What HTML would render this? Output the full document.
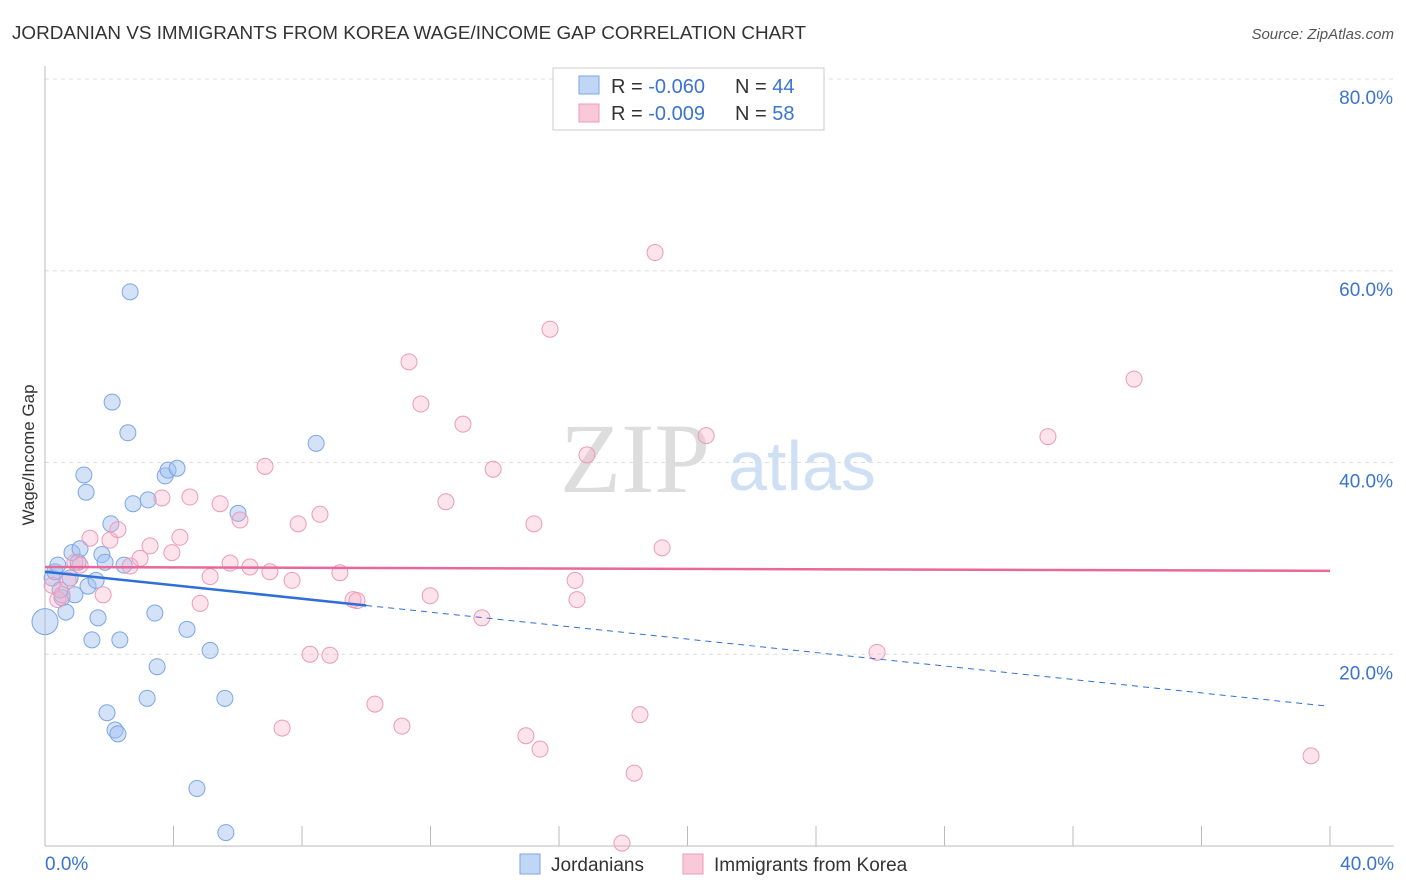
<!DOCTYPE html>
<html><head><meta charset="utf-8"><style>
body{margin:0;background:#fff;font-family:"Liberation Sans",sans-serif;}
svg{display:block}
</style></head><body>
<svg id="chart" width="1406" height="892">
<text x="12" y="39" font-size="18" fill="#333" textLength="794" lengthAdjust="spacingAndGlyphs">JORDANIAN VS IMMIGRANTS FROM KOREA WAGE/INCOME GAP CORRELATION CHART</text>
<text x="1394" y="39" font-size="15" fill="#555" font-style="italic" text-anchor="end">Source: ZipAtlas.com</text>
<g id="grid"></g>
<text x="635" y="492" font-size="100" fill="#ddd" font-family="Liberation Serif,serif" text-anchor="middle">ZIP</text>
<text x="802" y="490" font-size="70" fill="#cfe0f5" text-anchor="middle">atlas</text>
<text x="34" y="455" font-size="17" fill="#333" text-anchor="middle" transform="rotate(-90 34 455)">Wage/Income Gap</text>
<g id="marks"></g>
<g>
<rect x="553" y="68" width="271" height="62" fill="#fff" stroke="#ccc"/>
<rect x="579" y="76" width="20" height="18" fill="#c0d6f5" stroke="#7aa6e6"/>
<text x="611" y="93" font-size="20" fill="#333">R = <tspan fill="#3a74d0">-0.060</tspan></text>
<text x="735" y="93" font-size="20" fill="#333">N = <tspan fill="#3a74d0">44</tspan></text>
<rect x="579" y="104" width="20" height="18" fill="#f9c9d9" stroke="#eb9bb8"/>
<text x="611" y="120" font-size="20" fill="#333">R = <tspan fill="#3a74d0">-0.009</tspan></text>
<text x="735" y="120" font-size="20" fill="#333">N = <tspan fill="#3a74d0">58</tspan></text>
</g>
<g>
<rect x="520" y="854" width="20" height="20" fill="#c0d6f5" stroke="#7aa6e6"/>
<text x="551" y="871" font-size="19" fill="#333">Jordanians</text>
<rect x="683" y="854" width="20" height="20" fill="#f9c9d9" stroke="#eb9bb8"/>
<text x="714" y="871" font-size="19" fill="#333">Immigrants from Korea</text>
</g>
</svg>
<script>
const yTicks=[20,40,60,80];
const yTickLabels=["20.0%","40.0%","60.0%","80.0%"];
const xTickLabels=["0.0%","40.0%"];
const blueX=[0,0.22,0.31,0.40,0.53,0.65,0.78,0.84,0.93,1.03,1.09,1.21,1.28,1.34,1.46,1.59,1.65,1.77,1.87,1.93,2.09,2.18,2.27,2.33,2.46,2.58,2.65,2.74,3.18,3.21,3.42,3.49,3.74,3.83,4.11,4.42,5.14,5.60,5.63,6.01,4.73,8.44,2.05,0.47];
const blueY=[23.4,27.95,28.6,29.3,25.9,24.4,27.95,30.6,26.2,29.6,31.0,38.7,36.9,27.1,21.5,27.7,23.8,30.4,29.6,13.9,46.3,12.1,11.7,21.5,29.3,43.1,57.8,35.7,15.4,36.1,24.3,18.7,38.6,39.2,39.4,22.6,20.4,15.4,1.4,34.7,6.0,42.0,33.6,26.7];
const pinkX=[0.22,0.40,0.53,0.72,0.93,1.09,1.40,1.81,2.02,2.27,2.65,2.96,3.27,3.64,3.95,4.20,4.51,4.83,5.14,5.45,5.76,6.07,6.38,6.85,7.00,7.38,7.69,7.88,8.25,8.56,8.87,9.18,9.59,9.71,10.27,11.11,11.33,11.70,11.99,12.48,13.01,13.60,13.95,14.97,15.22,15.41,15.72,16.50,16.56,16.87,17.96,18.34,18.52,18.99,19.21,20.58,25.90,31.22,33.90,39.41];
const pinkY=[27.2,25.7,26.2,27.7,29.6,29.3,32.1,26.2,31.9,33.0,29.2,30.0,31.3,36.3,30.6,32.2,36.4,25.3,28.1,35.7,29.5,34.0,29.1,39.6,28.6,12.3,27.7,33.6,20.0,34.6,19.9,28.5,25.7,25.6,14.8,12.5,50.5,46.1,26.1,35.9,44.0,23.8,39.3,11.5,33.6,10.1,53.9,27.7,25.7,40.8,0.3,7.6,13.7,61.9,31.1,42.8,20.2,42.7,48.7,9.4];
const blueTrend=[28.6,-0.351];
const pinkTrend=[29.1,-0.01];
const X=v=>45+v*1285/40;
const Y=v=>846-v*9.5875;
const NS="http://www.w3.org/2000/svg";
function mk(t,a,p){const e=document.createElementNS(NS,t);for(const k in a)e.setAttribute(k,a[k]);p.appendChild(e);return e;}
const grid=document.getElementById('grid');
yTicks.forEach((t,i)=>{
 const l=mk('line',{x1:45,x2:1394,y1:Y(t),y2:Y(t),stroke:'#ddd','stroke-dasharray':'4,4'},grid);
 
 
 const tx=mk('text',{x:1393,y:Y(t)+25,'font-size':19,fill:'#3a74d0','text-anchor':'end'},grid);
 tx.textContent=yTickLabels[i];
 
 
});
const ax=mk('line',{x1:45,x2:45,y1:66,y2:846,stroke:'#bbb'},grid);


const bx=mk('line',{x1:45,x2:1394,y1:846,y2:846,stroke:'#bbb'},grid);


for(let i=1;i<=10;i++){
 const t=mk('line',{x1:X(i*4),x2:X(i*4),y1:826,y2:846,stroke:'#bbb'},grid);
 
 
}
[[0,'start',45],[40,'end',1394]].forEach((d,i)=>{
 const tx=mk('text',{x:d[2],y:870,'font-size':19,fill:'#3a74d0','text-anchor':d[1]},grid);
 tx.textContent=xTickLabels[i];
 
 
});
const marks=document.getElementById('marks');
blueX.forEach((x,i)=>{
 const c=mk('circle',{cx:X(x),cy:Y(blueY[i]),r:i==0?13:8,fill:'rgba(160,190,240,0.45)',stroke:'#7aa6e6','stroke-width':1},marks);
 
 
});
pinkX.forEach((x,i)=>{
 const c=mk('circle',{cx:X(x),cy:Y(pinkY[i]),r:8,fill:'rgba(245,175,200,0.35)',stroke:'#eb9bb8','stroke-width':1},marks);
 
 
});
const bt=x=>blueTrend[0]+blueTrend[1]*x, pt=x=>pinkTrend[0]+pinkTrend[1]*x;
const b1=mk('line',{x1:X(0),y1:Y(bt(0)),x2:X(10),y2:Y(bt(10)),stroke:'#2f6fd6','stroke-width':2.5},marks);


const b2=mk('line',{x1:X(10),y1:Y(bt(10)),x2:X(39.85),y2:Y(bt(39.85)),stroke:'#2f6fd6','stroke-width':1,'stroke-dasharray':'6,5'},marks);


const p1=mk('line',{x1:X(0),y1:Y(pt(0)),x2:X(40),y2:Y(pt(40)),stroke:'#e8689a','stroke-width':2.5},marks);


</script>
</body></html>
